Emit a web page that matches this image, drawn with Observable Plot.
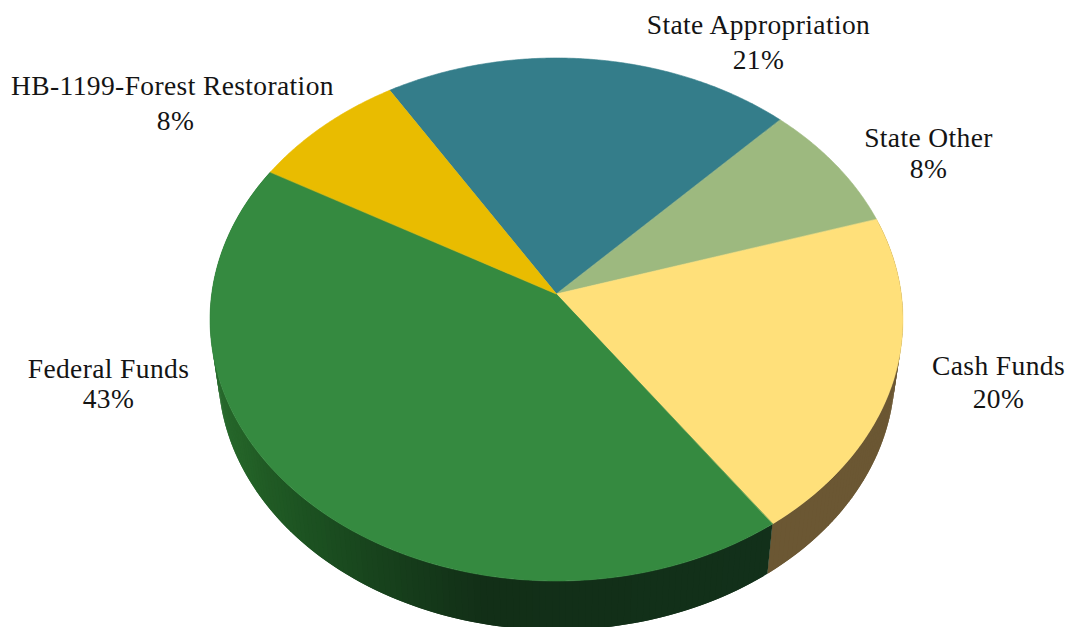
<!DOCTYPE html>
<html>
<head>
<meta charset="utf-8">
<script src="https://cdn.jsdelivr.net/npm/d3@7"></script>
<script src="https://cdn.jsdelivr.net/npm/@observablehq/plot@0.6"></script>
<style>html,body{margin:0;padding:0;background:#fff}svg{display:block}</style>
</head>
<body>
<div id="chart"></div>
<script>
// Data, clockwise from the top of the pie
const categories = ["State Appropriation", "State Other", "Cash Funds", "Federal Funds", "HB-1199-Forest Restoration"];
const shares = [21, 8, 20, 43, 8];
const topColors = ["#347D8A", "#9DB97F", "#FFE07A", "#358A40", "#E9BC00"];

// Layout
const W = 1068, H = 627;
const startDeg = -121.6;             // where the first slice starts
const cx = 556.5, cy = 294;          // pixel position of the pie's apex
const A = 344.8, B = 259;            // pixel radii of the top face
const persp = 0.0975;                // foreshortening of the tilted disc
const rad = d => d * Math.PI / 180;
const px = v => (v - cx) / A, py = v => (v - cy) / B;
const topRim = t => { const w = 1 - persp * Math.sin(t); return [Math.cos(t) / w, Math.sin(t) / w]; };
const baseRim = t => { const w = 1 - persp * Math.sin(t);
  return [(336.8 / A) * Math.cos(t) / w, (346.8 - cy) / B + (255.6 / B) * Math.sin(t) / w]; };

// Slice angles come from the shares
let acc = startDeg;
const slices = categories.map((name, i) => {
  const a0 = acc; acc += shares[i] * 3.6;
  return {name, share: shares[i], color: topColors[i], a0, a1: acc};
});
const wedgeRows = slices.flatMap(s => {
  const n = Math.ceil(s.a1 - s.a0) * 2;
  return d3.range(n + 1).map(k => {
    const [x, y] = topRim(rad(s.a0 + (s.a1 - s.a0) * k / n));
    return {name: s.name, color: s.color, x, y};
  });
});

// Side wall, shaded by angle; each band overlaps the next so no seams show
const cash = slices[2], fed = slices[3];
const fedShade = d3.scaleLinear().domain([55, 100, 128, 148, 170, 212])
  .range(["#12301a", "#122f17", "#1b4f20", "#236127", "#2a6e30", "#2c7232"]);
const wallRows = [];
const addWall = (a0, a1, colorAt, id) => {
  const step = 1;
  for (let a = a1 - step, j = 0; a > a0 - step; a -= step, j++) {
    const color = colorAt(a);
    for (const t of [Math.max(a, a0), Math.min(a + step * 2, a1)]) {
      const [x1, y1] = topRim(rad(t)), [x2, y2] = baseRim(rad(t));
      wallRows.push({band: id + j, color, x1, y1, x2, y2});
    }
  }
};
addWall(cash.a0, cash.a1, () => "#6B5733", "c");
addWall(fed.a0, fed.a1, a => d3.rgb(fedShade(a)).formatHex(), "f");

// Label positions in pixels
const labelLayout = [
  {nx: 758, ny: 25, vx: 758, vy: 60},
  {nx: 928, ny: 138, vx: 928, vy: 169},
  {nx: 998, ny: 366, vx: 998, vy: 399},
  {nx: 108, ny: 369, vx: 108, vy: 399},
  {nx: 172, ny: 86, vx: 175, vy: 121}
];
const labels = slices.map((s, i) => ({...s, ...labelLayout[i]}));
const textOpts = {textAnchor: "middle", lineAnchor: "middle", fontFamily: "Liberation Serif", fontSize: 27.5, fill: "#141414"};

const chart = Plot.plot({
  width: W, height: H,
  marginTop: 0, marginRight: 0, marginBottom: 0, marginLeft: 0,
  style: {letterSpacing: "0.38px", background: "#fff"},
  x: {axis: null, domain: [-1, 1], range: [cx - A, cx + A]},
  y: {axis: null, domain: [-1, 1], range: [cy - B, cy + B]},
  color: {type: "identity"},
  marks: [
    Plot.area(wallRows, {x1: "x1", y1: "y1", x2: "x2", y2: "y2", z: "band", fill: "color"}),
    Plot.area(wedgeRows, {x1: () => 0, y1: () => 0, x2: "x", y2: "y", z: "name", fill: "color", stroke: "color", strokeWidth: 0.6}),
    Plot.text(labels, {x: d => px(d.nx), y: d => py(d.ny), text: "name", ...textOpts}),
    Plot.text(labels, {x: d => px(d.vx), y: d => py(d.vy), text: d => d.share + "%", ...textOpts})
  ]
});
document.getElementById("chart").append(chart);
</script>
</body>
</html>
